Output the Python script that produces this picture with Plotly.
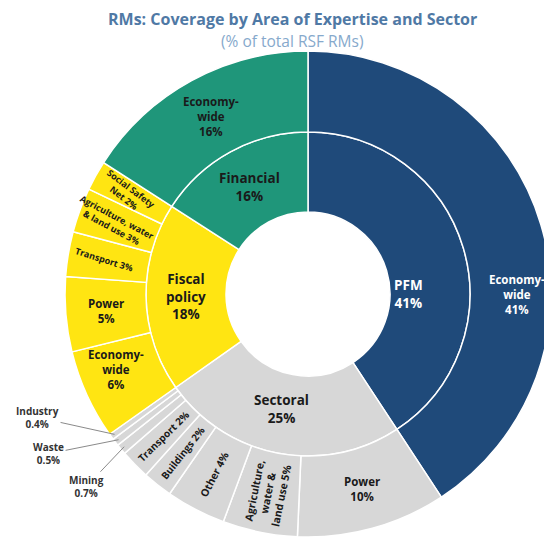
import numpy as np
import plotly.graph_objects as go

# inner ring: area of expertise (shares as printed)
groups = ["PFM", "Sectoral", "Fiscal policy", "Financial"]
group_share = [41, 25, 18, 16]

# outer ring: sector within each area (shares as printed)
sub_parent = ["PFM",
              "Sectoral", "Sectoral", "Sectoral", "Sectoral", "Sectoral", "Sectoral", "Sectoral", "Sectoral",
              "Fiscal policy", "Fiscal policy", "Fiscal policy", "Fiscal policy", "Fiscal policy",
              "Financial"]
sub_labels = ["Economy-wide",
              "Power", "Agriculture, water & land use", "Other", "Buildings", "Transport", "Mining", "Waste", "Industry",
              "Economy-wide", "Power", "Transport", "Agriculture, water & land use", "Social Safety Net",
              "Economy-wide"]
sub_share = [41,
             10, 5, 4, 2, 2, 0.7, 0.5, 0.4,
             6, 5, 3, 3, 2,
             16]

group_colors = {"PFM": "#1f4a7a", "Sectoral": "#d7d7d7", "Fiscal policy": "#ffe512", "Financial": "#1f967a"}

# --- geometry (pixels, as seen in the page; body has an 8px margin) ---
W, H = 552, 539
PAGE_OFF = 8
cx, cy = 308, 294
R_out, R_mid, R_hole = 243, 162, 82


def px(x):
    return (x - PAGE_OFF) / W


def py(y):
    return 1 - (y - PAGE_OFF) / H


def dom(r):
    return dict(x=[px(cx - r), px(cx + r)], y=[py(cy + r), py(cy - r)])


# inner values are sums of the outer slices so the rings line up
inner_vals = [sum(v for p, v in zip(sub_parent, sub_share) if p == g) for g in groups]
total = sum(sub_share)

fig = go.Figure()
fig.add_trace(go.Pie(
    labels=groups, values=inner_vals, sort=False, direction="clockwise", rotation=0,
    hole=R_hole / R_mid, domain=dom(R_mid), textinfo="none", hoverinfo="label",
    marker=dict(colors=[group_colors[g] for g in groups], line=dict(color="white", width=1.5)),
    showlegend=False))
fig.add_trace(go.Pie(
    labels=[p + " - " + l for p, l in zip(sub_parent, sub_labels)], values=sub_share,
    sort=False, direction="clockwise", rotation=0,
    hole=R_mid / R_out, domain=dom(R_out), textinfo="none", hoverinfo="label",
    marker=dict(colors=[group_colors[p] for p in sub_parent], line=dict(color="white", width=1.5)),
    showlegend=False))


def pos(theta, r):
    t = np.radians(theta)
    return cx + r * np.sin(t), cy - r * np.cos(t)


wrap = {"Economy-wide": "Economy-<br>wide", "Agriculture, water & land use": "Agriculture,<br>water &<br>land use",
        "Social Safety Net": "Social Safety<br>Net", "Fiscal policy": "Fiscal<br>policy"}
wrap_small = {"Agriculture, water & land use": "Agriculture, water<br>& land use",
              "Social Safety Net": "Social Safety<br>Net"}

ann = []
dark = "#1a1a1a"

# inner labels
cum = 0
for g, v, s in zip(groups, inner_vals, group_share):
    mid = (cum + v / 2) / total * 360
    cum += v
    r = (R_hole + R_mid) / 2
    if g == "PFM":
        mid, r = 90, 100
    if g == "Sectoral":
        mid, r = 193, 118
    x, y = pos(mid, r)
    ann.append(dict(x=px(x), y=py(y), text="<b>%s<br>%d%%</b>" % (wrap.get(g, g), s),
                    font=dict(size=13.5, color="white" if g == "PFM" else dark)))

# outer labels
cum = 0
for i, (p, l, v) in enumerate(zip(sub_parent, sub_labels, sub_share)):
    mid = (cum + v / 2) / total * 360
    cum += v
    pct = ("%g%%" % v)
    r = (R_mid + R_out) / 2
    if p == "PFM":
        x, y = pos(90, r + 6)
        ann.append(dict(x=px(x), y=py(y), text="<b>%s<br>%s</b>" % (wrap[l], pct),
                        font=dict(size=11.5, color="white")))
    elif v < 1:
        hx, hy = pos(mid, R_out - 4)
        off = {"Mining": (-38, 40), "Waste": (-70, 14), "Industry": (-77, -17)}[l]
        ann.append(dict(x=px(hx), y=py(hy), text="<b>%s<br>%s</b>" % (l, pct), showarrow=True,
                        arrowhead=0, arrowwidth=1, arrowcolor="#8a8a8a", ax=off[0], ay=off[1],
                        font=dict(size=10, color="#333333")))
    elif p == "Sectoral" and l != "Power":
        x, y = pos(mid, r)
        ann.append(dict(x=px(x), y=py(y), text="<b>%s %s</b>" % (wrap.get(l, l), pct),
                        textangle=mid - 270, font=dict(size=10.5 if v > 2 else 10, color=dark)))
    elif p == "Fiscal policy" and v <= 3:
        x, y = pos(mid, r + 4)
        ann.append(dict(x=px(x), y=py(y), text="<b>%s %s</b>" % (wrap_small.get(l, l), pct),
                        textangle=mid - 270 + 8, font=dict(size=9, color=dark)))
    else:
        x, y = pos(mid, r)
        if p == "Fiscal policy" and l == "Economy-wide":
            x, y = pos(mid + 3, r + 4)
        ann.append(dict(x=px(x), y=py(y), text="<b>%s<br>%s</b>" % (wrap.get(l, l), pct),
                        font=dict(size=11.5, color=dark)))

for a in ann:
    a.setdefault("showarrow", False)
    a["xref"] = "paper"
    a["yref"] = "paper"
    a["xanchor"] = "center"
    a["yanchor"] = "middle"
    a["font"]["family"] = "Open Sans"

ann.append(dict(x=px(292), y=py(19), xref="paper", yref="paper", showarrow=False,
                xanchor="center", yanchor="middle",
                text="<b>RMs: Coverage by Area of Expertise and Sector</b>",
                font=dict(family="Open Sans", size=16, color="#4f79a5")))
ann.append(dict(x=px(292), y=py(41), xref="paper", yref="paper", showarrow=False,
                xanchor="center", yanchor="middle",
                text="(% of total RSF RMs)",
                font=dict(family="Open Sans", size=15.5, color="#86a9cc")))

fig.update_layout(width=W, height=H, margin=dict(l=0, r=0, t=0, b=0),
                  paper_bgcolor="white", plot_bgcolor="white", annotations=ann)
fig.write_html("out.html")
